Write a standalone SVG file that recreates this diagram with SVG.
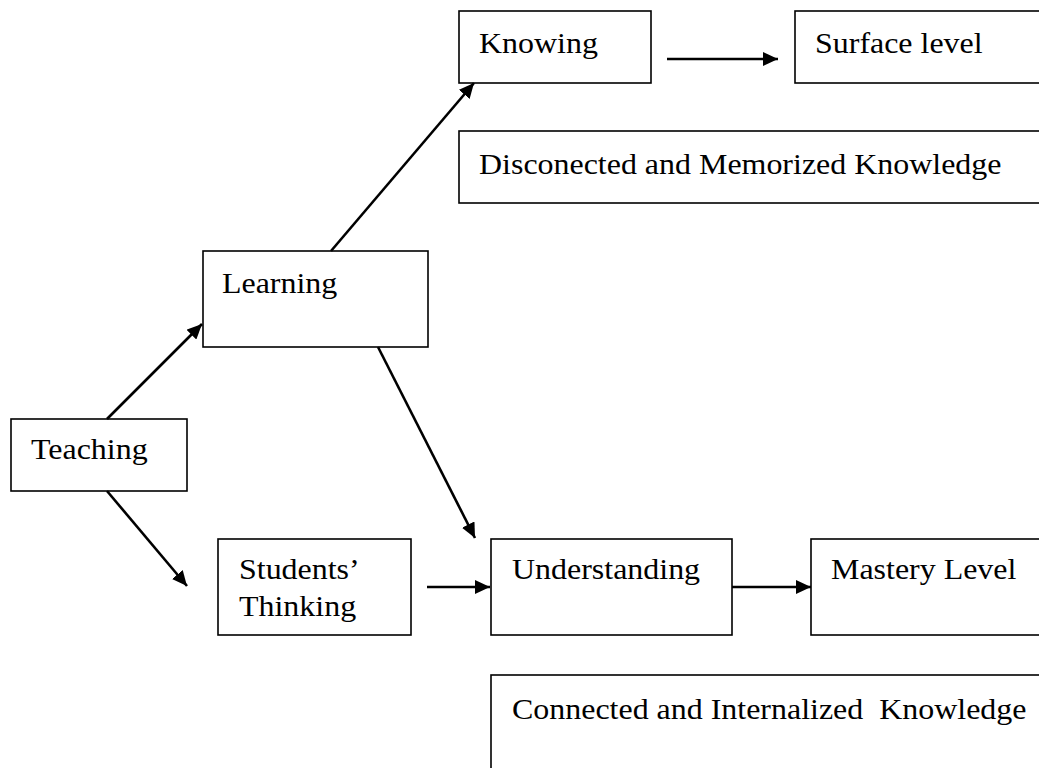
<svg xmlns="http://www.w3.org/2000/svg" width="1039" height="768" viewBox="0 0 1039 768">
  <style>
    .box { fill: #fff; stroke: #000; stroke-width: 1.6; }
    .lbl { font-family: "Liberation Serif", "Times New Roman", serif; font-size: 30px; fill: #000; }
    .edge { stroke: #000; stroke-width: 2.6; fill: none; marker-end: url(#head); }
  </style>
  <defs>
    <marker id="head" markerUnits="userSpaceOnUse" markerWidth="16" markerHeight="14" refX="15" refY="7" orient="auto">
      <path d="M0,0 L15,7 L0,14 Z" fill="#000"/>
    </marker>
  </defs>
  <rect width="1039" height="768" fill="#fff"/>

  <!-- labels are set slightly wide: translate to the baseline start, then stretch horizontally -->
  <g id="teaching">
    <rect class="box" x="11" y="419" width="176" height="72"/>
    <text class="lbl" transform="translate(31 459) scale(1.065 1)">Teaching</text>
  </g>
  <g id="learning">
    <rect class="box" x="203" y="251" width="225" height="96"/>
    <text class="lbl" transform="translate(222 293) scale(1.065 1)">Learning</text>
  </g>
  <g id="knowing">
    <rect class="box" x="459" y="11" width="192" height="72"/>
    <text class="lbl" transform="translate(479 53) scale(1.065 1)">Knowing</text>
  </g>
  <g id="surface-level">
    <rect class="box" x="795" y="11" width="260" height="72"/>
    <text class="lbl" transform="translate(815 53) scale(1.065 1)">Surface level</text>
  </g>
  <g id="disconnected-knowledge">
    <rect class="box" x="459" y="131" width="600" height="72"/>
    <text class="lbl" transform="translate(479 174) scale(1.065 1)">Disconected and Memorized Knowledge</text>
  </g>
  <g id="students-thinking">
    <rect class="box" x="218" y="539" width="193" height="96"/>
    <text class="lbl" transform="translate(239 579) scale(1.065 1)">Students’</text>
    <text class="lbl" transform="translate(239 616) scale(1.065 1)">Thinking</text>
  </g>
  <g id="understanding">
    <rect class="box" x="491" y="539" width="241" height="96"/>
    <text class="lbl" transform="translate(512 579) scale(1.065 1)">Understanding</text>
  </g>
  <g id="mastery-level">
    <rect class="box" x="811" y="539" width="260" height="96"/>
    <text class="lbl" transform="translate(831 579) scale(1.065 1)">Mastery Level</text>
  </g>
  <g id="connected-knowledge">
    <rect class="box" x="491" y="675" width="600" height="120"/>
    <text class="lbl" transform="translate(512 719) scale(1.065 1)" xml:space="preserve">Connected and Internalized  Knowledge</text>
  </g>

  <g id="connectors">
    <line class="edge" x1="107" y1="419" x2="202" y2="324"/>
    <line class="edge" x1="107" y1="491" x2="187" y2="586"/>
    <line class="edge" x1="331" y1="251" x2="474" y2="83"/>
    <line class="edge" x1="378" y1="347" x2="475" y2="538"/>
    <line class="edge" x1="667" y1="59" x2="778" y2="59"/>
    <line class="edge" x1="427" y1="587" x2="490" y2="587"/>
    <line class="edge" x1="732" y1="587" x2="811" y2="587"/>
  </g>
</svg>
